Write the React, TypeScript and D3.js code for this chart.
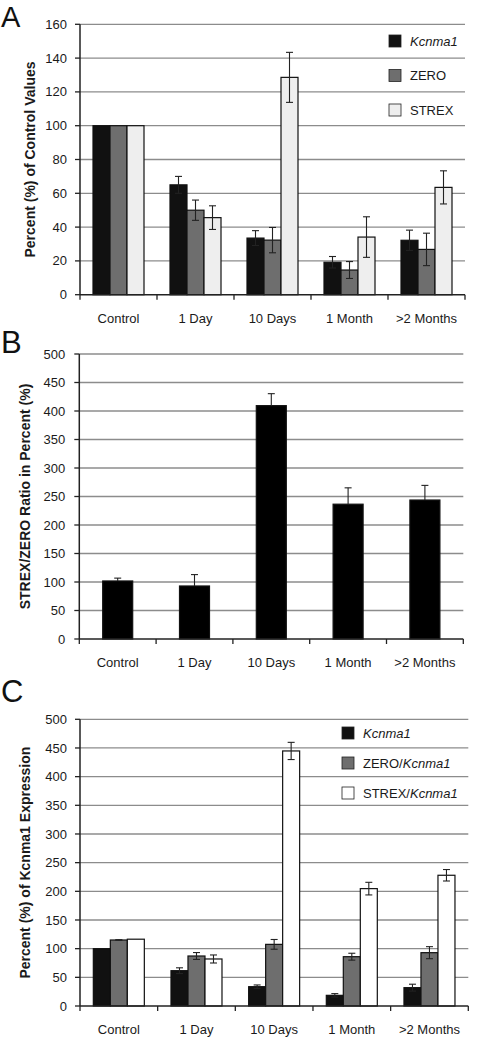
import React from "react";
import * as d3 from "d3";

const categories = ["Control", "1 Day", "10 Days", "1 Month", ">2 Months"];

// Panel A
const aKcnma1 = [100, 65, 33.5, 19.2, 32.2];
const aKcnma1Err = [0, 5, 4.4, 3.4, 6];
const aZero = [100, 50, 32.3, 14.6, 26.8];
const aZeroErr = [0, 6, 7.5, 5, 9.6];
const aStrex = [100, 45.6, 128.6, 34.1, 63.5];
const aStrexErr = [0, 7, 14.8, 12, 9.8];
const aTicks = [0, 20, 40, 60, 80, 100, 120, 140, 160];

// Panel B
const bRatio = [101.8, 93, 409.4, 236.5, 243.8];
const bRatioErr = [5, 20, 21, 28.7, 25.7];
const bTicks = [0, 50, 100, 150, 200, 250, 300, 350, 400, 450, 500];

// Panel C
const cKcnma1 = [100, 61.6, 33.7, 18.6, 32];
const cKcnma1Err = [0, 5, 3, 3, 6];
const cZero = [115.1, 87.2, 107.5, 86, 93];
const cZeroErr = [0.5, 6, 8.5, 6, 10.5];
const cStrex = [116.5, 82, 444.8, 204.7, 228];
const cStrexErr = [0, 7, 15, 11, 10];
const cTicks = [0, 50, 100, 150, 200, 250, 300, 350, 400, 450, 500];

const FONT = "'Liberation Sans', Arial, sans-serif";
const TXT = "#1a1a1a";

type Series = { name: any; values: number[]; errs: number[]; fill: string; bothErr: boolean };

function Panel(props: {
  letter: string; letterY: number; letterSize: number;
  x0: number; x1: number; yTop: number; y0: number; max: number; ticks: number[];
  title: string; titleX: number; tickLabelGap: number;
  series: Series[]; barW: number;
  legend?: { x: number; y: number; step: number };
}) {
  const { x0, x1, yTop, y0, max, ticks, series, barW } = props;
  const x = d3.scaleBand<string>().domain(categories).range([x0, x1]).padding(0);
  const y = d3.scaleLinear().domain([0, max]).range([y0, yTop]);
  const sub = d3.scaleBand<number>().domain(series.map((_, i) => i)).range([0, barW * series.length]).padding(0);
  const groupOff = (x.bandwidth() - barW * series.length) / 2;
  const cap = 3.5;
  return (
    <g>
      <text x={1} y={props.letterY} fontFamily={FONT} fontSize={props.letterSize} fill="#111">{props.letter}</text>
      {ticks.filter(t => t > 0).map(t => (
        <line key={"g" + t} x1={x0} x2={x1} y1={y(t)} y2={y(t)} stroke="#8c8c8c" strokeWidth={1.3} />
      ))}
      {ticks.map(t => (
        <g key={"t" + t}>
          <line x1={x0 - 5} x2={x0} y1={y(t)} y2={y(t)} stroke="#222" strokeWidth={1.3} />
          <text x={x0 - props.tickLabelGap} y={y(t)} dy="0.35em" textAnchor="end" fontFamily={FONT} fontSize={13} fill={TXT}>{t}</text>
        </g>
      ))}
      {categories.map((c, ci) => (
        <g key={c}>
          {series.map((s, si) => {
            const bx = (x(c) as number) + groupOff + (sub(si) as number);
            const v = s.values[ci];
            const e = s.errs[ci];
            const cx = bx + barW / 2;
            return (
              <g key={si}>
                <rect x={bx} y={y(v)} width={barW} height={y0 - y(v)} fill={s.fill} stroke="#111" strokeWidth={1.2} />
                {e > 0 && (
                  <g stroke="#222" strokeWidth={1.1}>
                    <line x1={cx} x2={cx} y1={y(v + e)} y2={s.bothErr ? y(v - e) : y(v)} />
                    <line x1={cx - cap} x2={cx + cap} y1={y(v + e)} y2={y(v + e)} />
                    {s.bothErr && <line x1={cx - cap} x2={cx + cap} y1={y(v - e)} y2={y(v - e)} />}
                  </g>
                )}
              </g>
            );
          })}
          <text x={(x(c) as number) + x.bandwidth() / 2} y={y0 + 28} textAnchor="middle" fontFamily={FONT} fontSize={13} fill={TXT}>{c}</text>
        </g>
      ))}
      <line x1={x0} x2={x0} y1={yTop} y2={y0} stroke="#222" strokeWidth={1.5} />
      <line x1={x0} x2={x1} y1={y0} y2={y0} stroke="#222" strokeWidth={1.5} />
      {d3.range(categories.length + 1).map(i => {
        const tx = x0 + i * x.bandwidth();
        return <line key={"xt" + i} x1={tx} x2={tx} y1={y0} y2={y0 + 5} stroke="#222" strokeWidth={1.3} />;
      })}
      <text transform={`translate(${props.titleX},${(yTop + y0) / 2}) rotate(-90)`} dy="0.35em" textAnchor="middle" fontFamily={FONT} fontSize={14} fontWeight="bold" fill={TXT}>{props.title}</text>
      {props.legend && series.map((s, si) => (
        <g key={"l" + si}>
          <rect x={props.legend!.x} y={props.legend!.y + si * props.legend!.step} width={12} height={12} fill={s.fill} stroke="#222" strokeWidth={0.8} />
          <text x={props.legend!.x + 21} y={props.legend!.y + si * props.legend!.step + 6} dy="0.35em" fontFamily={FONT} fontSize={13} fill={TXT}>{s.name}</text>
        </g>
      ))}
    </g>
  );
}

const it = (t: string) => <tspan fontStyle="italic">{t}</tspan>;

export default function App() {
  return (
    <svg width={493} height={1050} style={{ position: "absolute", left: 0, top: 0, background: "#fff" }}>
      <Panel letter="A" letterY={26.5} letterSize={29} x0={80} x1={465} yTop={24.3} y0={294.7} max={160} ticks={aTicks}
        title="Percent (%) of Control Values" titleX={30} tickLabelGap={13} barW={17}
        series={[
          { name: it("Kcnma1"), values: aKcnma1, errs: aKcnma1Err, fill: "#111111", bothErr: true },
          { name: "ZERO", values: aZero, errs: aZeroErr, fill: "#6e6e6e", bothErr: true },
          { name: "STREX", values: aStrex, errs: aStrexErr, fill: "#eeeeee", bothErr: true },
        ]}
        legend={{ x: 389, y: 35, step: 34.5 }} />
      <Panel letter="B" letterY={353} letterSize={31} x0={79.3} x1={463.3} yTop={354} y0={639} max={500} ticks={bTicks}
        title="STREX/ZERO Ratio in Percent (%)" titleX={25} tickLabelGap={14} barW={30}
        series={[
          { name: "Ratio", values: bRatio, errs: bRatioErr, fill: "#000000", bothErr: false },
        ]} />
      <Panel letter="C" letterY={702} letterSize={31} x0={80} x1={468.3} yTop={719.3} y0={1006} max={500} ticks={cTicks}
        title="Percent (%) of Kcnma1 Expression" titleX={25} tickLabelGap={13} barW={17}
        series={[
          { name: it("Kcnma1"), values: cKcnma1, errs: cKcnma1Err, fill: "#111111", bothErr: true },
          { name: <>ZERO/{it("Kcnma1")}</>, values: cZero, errs: cZeroErr, fill: "#6e6e6e", bothErr: true },
          { name: <>STREX/{it("Kcnma1")}</>, values: cStrex, errs: cStrexErr, fill: "#ffffff", bothErr: true },
        ]}
        legend={{ x: 342, y: 727, step: 30 }} />
    </svg>
  );
}
